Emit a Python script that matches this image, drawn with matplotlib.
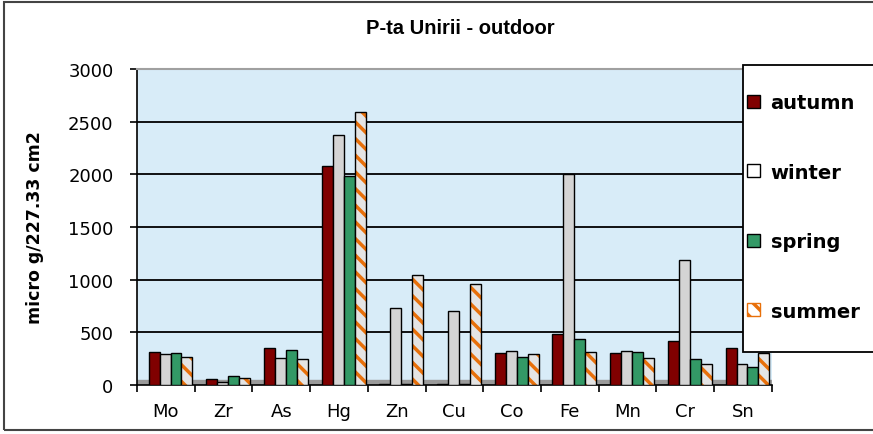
import matplotlib.pyplot as plt
import numpy as np
from matplotlib.patches import Patch, Rectangle

elements = ['Mo', 'Zr', 'As', 'Hg', 'Zn', 'Cu', 'Co', 'Fe', 'Mn', 'Cr', 'Sn']
autumn = [310, 60, 350, 2080, 10, 10, 300, 480, 300, 420, 350]
winter = [290, 30, 260, 2370, 730, 700, 320, 2000, 320, 1190, 200]
spring = [300, 90, 330, 1980, 5, 5, 270, 440, 310, 250, 170]
summer = [270, 70, 250, 2590, 1040, 960, 290, 310, 260, 200, 300]
seasons = ['autumn', 'winter', 'spring', 'summer']
yticks = [0, 500, 1000, 1500, 2000, 2500, 3000]

RED = '#800000'
GREEN = '#339966'
ORANGE = '#e8700a'

plt.rcParams['hatch.linewidth'] = 2.5

fig = plt.figure(figsize=(8.73, 4.35), dpi=100)
ax = fig.add_axes([0.157, 0.1126, 0.727, 0.7264])
ax.set_facecolor('#d8ecf8')

x = np.arange(len(elements))
w = 0.19
shift = 0.08

ax.axhspan(0, 45, color='#9a9a9a', zorder=1)
for v in [500, 1000, 1500, 2000, 2500]:
    ax.axhline(v, color='black', lw=1.3, zorder=1)

ax.bar(x + shift - 1.5 * w, autumn, w, color=RED, edgecolor='black', lw=1, zorder=3)
ax.bar(x + shift - 0.5 * w, winter, w, color='#d4d4d4', edgecolor='black', lw=1, zorder=3)
ax.bar(x + shift + 0.5 * w, spring, w, color=GREEN, edgecolor='black', lw=1, zorder=3)
ax.bar(x + shift + 1.5 * w, summer, w, color='#e4e4e4', edgecolor=ORANGE, lw=0,
       hatch='\\\\', zorder=3)
ax.bar(x + shift + 1.5 * w, summer, w, fill=False, edgecolor='black', lw=1, zorder=4)

ax.set_xlim(-0.5, len(elements) - 0.5)
ax.set_ylim(0, 3000)
ax.set_yticks(yticks)
ax.set_yticklabels([str(t) for t in yticks], fontsize=13)
ax.set_xticks(x)
ax.set_xticklabels(elements, fontsize=13)
ax.set_xticks(np.arange(len(elements) + 1) - 0.5, minor=True)
ax.tick_params(axis='x', which='major', length=0, pad=12)
ax.tick_params(axis='x', which='minor', length=5, width=1.2, direction='out')
ax.tick_params(axis='y', length=5, width=1.2, direction='out', pad=12)

ax.spines['left'].set_linewidth(1.2)
ax.spines['bottom'].set_linewidth(1.2)
ax.spines['top'].set_color('#a0a0a0')
ax.spines['top'].set_linewidth(1.5)
ax.spines['right'].set_visible(False)

ax.set_ylabel('micro g/227.33 cm2', fontsize=12.5, fontweight='bold', labelpad=17)
fig.text(0.527, 0.935, 'P-ta Unirii - outdoor', ha='center', va='center',
         fontsize=14.5, fontweight='bold', family='Liberation Sans')

# legend frame drawn separately so the box can be taller than its entries
fig.patches.append(Rectangle((0.851, 0.1885), 0.2, 0.6595, transform=fig.transFigure,
                             facecolor='white', edgecolor='black', lw=1.3, zorder=5))
handles = [
    Patch(facecolor=RED, edgecolor='black'),
    Patch(facecolor='white', edgecolor='black'),
    Patch(facecolor=GREEN, edgecolor='black'),
    Patch(facecolor='white', edgecolor=ORANGE, hatch='\\\\'),
]
leg = fig.legend(handles, seasons, loc='center left', bbox_to_anchor=(0.856, 0.522),
                 prop={'weight': 'bold', 'size': 14}, labelspacing=2.6, borderpad=0,
                 handlelength=0.65, handleheight=0.65, handletextpad=0.55,
                 frameon=False, borderaxespad=0)
leg.set_zorder(6)
for h in leg.legend_handles:
    h.set_linewidth(1)

fig.patches.append(Rectangle((0.005, 0.009), 1.2, 0.985, transform=fig.transFigure,
                             fill=False, edgecolor='#444444', lw=1.5))

fig.savefig('out.png', dpi=100)
